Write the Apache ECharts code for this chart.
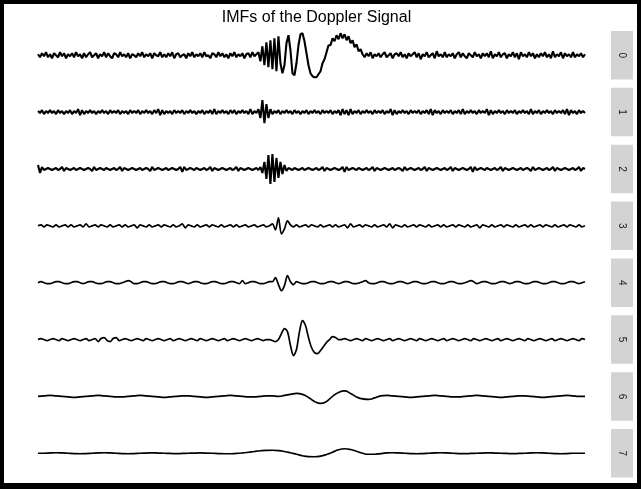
<!DOCTYPE html>
<html>
<head>
<meta charset="utf-8">
<script src="https://cdn.jsdelivr.net/npm/echarts@6/dist/echarts.min.js"></script>
<style>
  html, body { margin: 0; padding: 0; background: #000; }
  #chart { width: 641px; height: 489px; }
</style>
</head>
<body>
<div id="chart"></div>
<script>
// 标题和面板标签
var titleText = 'IMFs of the Doppler Signal';
var panelLabels = ['0', '1', '2', '3', '4', '5', '6', '7'];

// IMF 0 (每 2 个样本)
var imf0 = [
  1,-2,2,-1,3,-2,1,-3,2,0,-2,3,-1,2,-3,1,-1,2,-2,3,
  -1,1,-3,2,-2,1,3,-2,0,2,-3,1,-1,3,-2,2,-1,-3,2,1,
  -2,3,-1,1,-2,2,-3,1,0,-2,2,-1,3,-2,1,-1,2,-3,2,0,
  -1,3,-2,1,-2,2,-1,3,-3,1,2,-2,0,1,-3,2,-1,3,-2,1,
  -1,2,-2,3,-1,0,-3,2,1,-2,3,-1,2,-2,1,-3,2,-1,3,-2,
  1,-1,2,-3,1,2,-2,3,-1,1,
  3,-6,9,-10,13,-12,15,-14,17,-16,19,-8,-18,-10,12,20,5,-18,-20,-8,
  10,21,22,14,2,-10,-18,-21,-22,-22,-19,-16,-8,-4,
  3,10,10,17,14,20,16,22,17,21,15,19,12,15,8,11,4,6,1,
  -2,2,-1,3,-3,1,-1,2,-2,1,3,-2,0,2,-3,1,2,-1,3,-2,
  1,-3,2,-1,1,3,-2,2,-4,1,-1,3,-2,0,2,-3,4,-1,1,-2,
  3,-2,1,-1,2,-3,1,3,-2,2,-1,-3,2,0,-2,3,-1,1,-3,2,
  -1,2,-2,4,-3,1,-1,3,-2,1,2,-3,1,-1,3,-2,2,-4,3,-1,
  1,-2,3,-1,2,-3,1,-2,2,-1,3,-2,1,-3,4,-2,1,-1,3,-3,
  2,-1,1,-2,3,-2,1,-1,2,-2,1
];

var imf1 = [
  1,-1,2,-2,1,-1,2,-1,1,-2,2,-1,1,-2,1,-1,2,-2,1,-1,
  3,-3,2,-2,1,-1,2,-1,1,-2,1,-1,2,-1,1,-2,2,-1,1,-1,
  2,-2,1,-1,1,-2,2,-1,1,-1,2,-2,1,-1,2,-1,1,-2,2,-1,
  3,-3,2,-2,1,-1,1,-2,2,-1,1,-1,2,-2,1,-1,2,-1,1,-2,
  1,-1,2,-2,1,-1,2,-2,3,-2,1,-1,2,-1,1,-2,2,-1,2,-2,
  1,-1,2,-1,1,-2,3,-2,1,-1,
  3,-6,12,-11,8,-6,3,-2,
  1,-1,2,-2,1,-1,2,-1,1,-2,2,-1,1,-2,1,-1,2,-2,1,-1,
  2,-1,1,-2,2,-1,1,-1,2,-2,1,-1,2,-3,3,-2,2,-3,3,-2,
  1,-1,2,-2,1,-1,2,-1,1,-2,2,-1,1,-1,2,-2,1,-1,3,-3,
  2,-2,1,-1,2,-1,1,-2,2,-1,1,-1,2,-2,1,-1,2,-2,3,-3,
  2,-1,1,-2,2,-1,1,-1,2,-2,1,-1,2,-2,3,-2,1,-1,2,-1,
  1,-2,2,-1,1,-1,3,-3,2,-2,1,-1,2,-1,1,-2,2,-1,1,-1,
  2,-2,1,-1,2,-1,1,-2,3,-2,1,-1,2,-2,1,-1,2,-1,1,-2,
  2,-1,1,-1,2,-2,3,-3,2,-1,1,-2,2,-1,1,-1
];

var imf2 = [
  4,-4,2,-1,0,1,0,-1,0,1,-1,0,2,-2,1,0,-1,0,1,-1,
  0,1,0,-1,0,1,0,-2,2,-1,0,1,0,-1,1,0,-1,0,1,-1,
  0,2,-2,1,0,-1,0,1,0,-1,0,1,-1,0,1,0,-2,2,-1,0,
  1,0,-1,0,1,-1,0,1,0,-1,0,2,-3,2,-1,0,1,0,-1,1,
  0,-1,0,1,-1,0,2,-2,1,0,-1,0,1,0,-1,0,1,-1,0,2,
  -2,1,0,-1,0,1,0,-1,0,1,-1,2,
  -4,7,-10,14,-15,15,-13,11,-9,7,-5,4,-2,1,
  0,-1,1,0,-1,0,1,-1,0,1,0,-1,0,1,-1,0,2,-2,1,0,
  -1,0,1,0,-1,0,2,-3,2,-1,0,1,0,-1,1,0,-1,0,1,-1,
  0,2,-2,1,0,-1,0,1,0,-1,0,1,-1,0,1,0,-2,2,-1,0,
  1,0,-1,0,1,-1,0,2,-2,1,0,-1,0,1,0,-1,0,1,-1,0,
  2,-2,1,0,-1,0,1,0,-1,0,2,-3,2,-1,0,1,0,-1,1,0,
  -1,0,1,-1,0,2,-2,1,0,-1,0,1,0,-1,0,1,-1,0,1,0,
  -2,2,-1,0,1,0,-1,0,1,-1,0,2,-2,1,0,-1,0,1,0,-1,
  0,1,-1,0,2,-2,1,0
];

// IMF 3-5 (每 3 个样本)
var imf3 = [
  0,1,-1,1,0,-1,1,-1,0,1,-1,1,-1,0,1,-1,2,-1,0,1,
  -1,1,0,-1,1,-1,0,1,-1,1,-1,0,1,-2,1,0,-1,1,-1,0,
  1,-1,1,0,-1,1,-1,0,2,-2,1,0,-1,1,-1,0,1,-1,1,0,
  -1,1,-1,0,1,-1,1,-1,0,1,-1,0,1,-1,0,1,-1,0,
  2,-4,8,-8,-3,5,1,-1,
  1,-1,0,1,-1,1,0,-1,1,-1,0,1,-1,1,-1,0,1,-2,2,-1,
  0,1,-1,1,0,-1,1,-1,0,1,-1,2,-2,1,0,-1,1,-1,0,1,
  -1,1,0,-1,1,-1,0,1,-1,1,-1,0,1,-1,1,0,-1,1,-1,0,
  1,-2,1,0,-1,1,-1,0,1,-1,1,0,-1,1,-1,0,1,-1,1,-1,
  0,1,-1,1,0,-1,1,-1,0,1,-1,1,0,-1,1,-1,0
];

var imf4 = [
  0,1,0,-1,-1,0,1,1,0,-1,-1,0,1,1,0,-1,0,1,1,0,
  -1,-1,0,1,1,0,-1,-1,0,1,2,1,-1,-1,0,1,1,0,-1,-1,
  0,1,1,0,-1,-1,0,1,1,0,-1,0,1,1,0,-1,-1,0,1,1,
  0,-1,-1,0,1,1,0,-1,2,-1,0,1,1,0,-1,-1,0,1,
  1,5,-2,-8,-3,7,1,-2,1,
  0,-1,-1,0,1,1,0,-1,-1,0,1,1,0,-1,0,1,1,0,-1,-1,
  0,1,2,0,-1,-1,0,1,1,0,-1,-1,0,1,1,0,-1,0,1,1,
  0,-1,-1,0,1,1,0,-1,-1,0,1,1,0,-1,-1,0,1,2,1,-1,
  0,1,1,0,-1,-1,0,1,1,0,-1,0,1,1,0,-1,-1,0,1,1,
  0,-1,-1,0,1,1,0,-1,-1,0,1,1,0,-1,0,1
];

var imf5 = [
  0,1,0,-1,0,1,0,-1,1,0,-1,0,1,0,-1,0,1,-1,0,1,
  -2,1,2,-1,-2,1,2,-1,0,1,0,-1,0,1,0,-1,1,0,-1,0,
  1,0,-1,0,1,-1,0,1,0,-1,0,1,0,-1,1,0,-1,0,1,0,
  -1,0,1,-1,0,1,0,-1,0,1,0,-1,0,1,0,-1,0,
  0,-1,-2,0,6,11,8,-6,-16,-10,8,19,14,2,-8,-13,-14,-11,-7,-3,0,3,2,0,0,
  1,0,-1,0,1,0,-1,1,0,-1,0,1,0,-1,0,1,-1,0,1,0,
  -1,0,1,0,-1,1,0,-1,0,1,0,-1,0,1,-1,0,1,0,-1,0,
  1,0,-1,1,0,-1,0,1,0,-1,0,1,-1,0,1,0,-1,0,1,0,
  -1,1,0,-1,0,1,0,-1,0,1,-1,0,1,0,-1,0,1,0,-1,1,
  0
];

// IMF 6-7 (每 6 个样本)
var imf6 = [
  0,0.5,1,0.5,0,-0.5,-1,-0.5,0,0.5,1,0.5,0,-0.5,-0.5,0,0.5,1,0.5,0,
  -0.5,-1,-0.5,0,0.5,0.5,0,-0.5,-1,-0.5,0,0.5,1,0.5,0,-0.5,-0.5,0,0.5,0.5,
  0,1,2,3,2,-1,-5,-7,-5,0,4,5.5,3,-0.5,-2.5,-3,-1.5,0.5,
  1,0.5,0,-0.5,-1,-0.5,0,0.5,1,0.5,0,-0.5,-0.5,0,0.5,1,0.5,0,-0.5,-1,
  -0.5,0,0.5,0.5,0,-0.5,-1,-0.5,0,0.5,1,0.5,0,0
];

var imf7 = [
  0,0,0.3,0.5,0.3,0,-0.3,-0.5,-0.3,0,0.3,0.5,0.3,0,-0.3,-0.5,-0.3,0,0.2,0.4,
  0.2,0,-0.2,-0.4,-0.2,0,0.2,0.3,0.2,0,-0.3,-0.5,
  -0.5,-0.2,0.3,1,1.8,2.5,2.9,3,2.7,1.8,0.5,-1,-2.5,-3.4,-3.5,-2.8,-1.2,1,3.5,4.5,
  3.8,2,0,-1,-1,-0.3,0.3,
  0.5,0.3,0,-0.3,-0.5,-0.3,0,0.3,0.5,0.3,0,-0.3,-0.4,-0.2,0,0.2,0.4,0.2,0,-0.2,
  -0.4,-0.2,0,0.3,0.5,0.3,0,-0.3,-0.5,-0.3,0,0,0
];

var imfs = [imf0, imf1, imf2, imf3, imf4, imf5, imf6, imf7];

var chart = echarts.init(document.getElementById('chart'));

var grids = [], xAxes = [], yAxes = [], series = [];
var graphics = [{
  type: 'rect', z: -10,
  shape: { x: 4, y: 4, width: 633, height: 479 },
  style: { fill: '#fff' }
}];

for (var k = 0; k < imfs.length; k++) {
  var panelTop = 31 + 56.86 * k;
  grids.push({ left: 38, width: 547, top: panelTop, height: 48.5 });
  xAxes.push({ type: 'value', gridIndex: k, min: 0, max: imfs[k].length - 1, show: false });
  yAxes.push({ type: 'value', gridIndex: k, min: -24.25, max: 24.25, show: false });
  series.push({
    type: 'line',
    xAxisIndex: k,
    yAxisIndex: k,
    data: imfs[k].map(function (v, i) { return [i, v]; }),
    showSymbol: false,
    smooth: k >= 6 ? true : (k >= 3 ? 0.3 : false),
    lineStyle: { color: '#000', width: k < 3 ? 2.1 : 1.7 },
    silent: true
  });
  // 右侧灰色标签条
  graphics.push({
    type: 'rect',
    shape: { x: 611, y: panelTop, width: 22, height: 48.5 },
    style: { fill: '#d3d3d3' }
  });
  graphics.push({
    type: 'text',
    x: 622, y: panelTop + 24.25,
    rotation: -Math.PI / 2,
    style: {
      text: panelLabels[k],
      fill: '#1a1a1a',
      font: '10px "Liberation Sans", Arial, sans-serif',
      align: 'center',
      verticalAlign: 'middle'
    }
  });
}

var option = {
  backgroundColor: '#000',
  animation: false,
  title: {
    text: titleText,
    left: 311.5,
    textAlign: 'center',
    top: 5,
    textStyle: {
      fontFamily: '"Liberation Sans", Arial, sans-serif',
      fontSize: 16,
      fontWeight: 'normal',
      color: '#000'
    }
  },
  grid: grids,
  xAxis: xAxes,
  yAxis: yAxes,
  series: series,
  graphic: graphics
};

chart.setOption(option);
</script>
</body>
</html>
